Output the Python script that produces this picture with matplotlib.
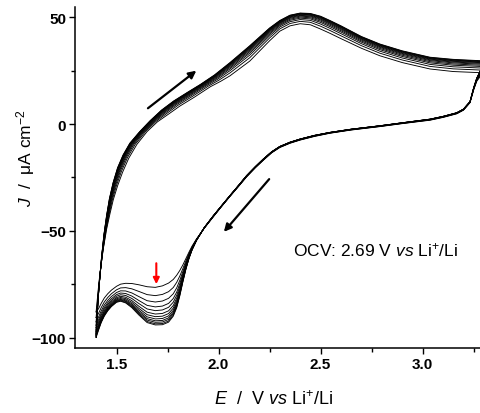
import numpy as np
import matplotlib
matplotlib.use("Agg")
import matplotlib.pyplot as plt
from matplotlib.ticker import MultipleLocator

plt.rcParams['font.family'] = ['Liberation Sans', 'DejaVu Sans']
plt.rcParams['mathtext.fontset'] = 'custom'
plt.rcParams['mathtext.rm'] = 'Liberation Sans'
plt.rcParams['mathtext.it'] = 'Liberation Sans:italic'
plt.rcParams['mathtext.bf'] = 'Liberation Sans:bold'

# ---- data ----
# anodic (forward) branch, first cycle (inner) and last cycle (outer), paired points
anod_first_E = [1.400, 1.406, 1.414, 1.424, 1.436, 1.452, 1.468, 1.484, 1.505, 1.530, 1.560, 1.600,
                1.650, 1.700, 1.760, 1.810, 1.880, 1.960, 2.010, 2.056, 2.153, 2.250, 2.300, 2.350,
                2.400, 2.450, 2.500, 2.546, 2.600, 2.700, 2.790, 2.900, 3.036, 3.150, 3.300]
anod_first_J = [-88, -82, -74, -66, -58, -49, -42, -35.5, -29, -22.5, -16, -9.5,
                -3.5, 1, 5, 8.4, 12.5, 17.5, 20, 22.6, 29.5, 39, 43.5, 46,
                47, 46.5, 44.5, 42.5, 40, 35.5, 32, 28.8, 25.8, 24.6, 24.0]
anod_last_E = [1.400, 1.404, 1.410, 1.418, 1.426, 1.438, 1.451, 1.465, 1.483, 1.505, 1.532, 1.565,
               1.614, 1.664, 1.720, 1.780, 1.850, 1.910, 1.980, 2.056, 2.153, 2.250, 2.300, 2.350,
               2.400, 2.450, 2.500, 2.546, 2.600, 2.700, 2.790, 2.900, 3.036, 3.150, 3.300]
anod_last_J = [-100, -92, -82, -72, -63, -52, -43, -35, -27.5, -20.5, -14.5, -9,
               -3.5, 1.5, 6.5, 10.8, 15, 18.5, 23, 28.8, 36.7, 45, 48.5, 51,
               52, 51.8, 50.5, 48.5, 46, 41, 37.5, 34.3, 31.3, 30.3, 29.6]

# cathodic (reverse) branch, first cycle and last cycle, paired points
cath_E = [3.300, 3.290, 3.280, 3.265, 3.250, 3.232, 3.200, 3.167, 3.100, 3.036, 2.900, 2.790,
          2.650, 2.546, 2.470, 2.400, 2.350, 2.300, 2.260, 2.219, 2.180, 2.137, 2.100, 2.055,
          2.010, 1.974, 1.930, 1.892, 1.870, 1.855, 1.840, 1.825, 1.810, 1.795, 1.778, 1.755,
          1.725, 1.690, 1.650, 1.610, 1.575, 1.545, 1.520, 1.500, 1.475, 1.457, 1.440, 1.425,
          1.412, 1.400]
cath_first_J = [24.0, 23, 22, 20, 16, 10, 6.5, 4.8, 3.1, 1.8, 0.2, -1.2,
                -2.8, -4.3, -5.8, -7.5, -9, -11, -13.5, -17, -20.5, -24.8, -29, -34,
                -39.2, -43.5, -48.8, -53.8, -57.2, -60, -63, -66, -68.6, -70.8, -72.8, -74.5,
                -75.8, -76.5, -76.2, -75.3, -74.7, -74.6, -75, -76, -77.8, -79.5, -81.5, -84,
                -86.5, -88]
cath_last_J = [29.6, 27, 24.5, 21.5, 17, 10.5, 7, 5.3, 3.6, 2.3, 0.6, -0.8,
               -2.4, -3.9, -5.3, -7, -8.5, -10.5, -13, -16.4, -20, -24.2, -28.5, -33.6,
               -38.8, -43, -48.5, -54.5, -59, -63, -68, -74, -80.5, -86, -90, -92.8,
               -94, -94.1, -93, -89.5, -86, -83.8, -83, -83.5, -85.5, -87.5, -90, -93,
               -96.5, -100]

# relative position of each of the 12 cycles inside the bundle (0 = first, 1 = last)
cycle_frac = [0.0, 0.22, 0.39, 0.52, 0.62, 0.71, 0.78, 0.84, 0.89, 0.93, 0.97, 1.0]

x_ticks = [1.5, 2.0, 2.5, 3.0]
y_ticks = [-100, -50, 0, 50]
ocv_text = 'OCV: 2.69 V $vs$ Li$^{+}$/Li'

# ---- figure ----
fig = plt.figure(figsize=(4.8, 4.14), dpi=100)
ax = fig.add_axes([0.156, 0.156, 0.844, 0.824])

aE1, aJ1 = np.array(anod_first_E), np.array(anod_first_J)
aE2, aJ2 = np.array(anod_last_E), np.array(anod_last_J)
cE = np.array(cath_E)
cJ1, cJ2 = np.array(cath_first_J), np.array(cath_last_J)

for f in cycle_frac:
    E = np.concatenate([aE1 + f * (aE2 - aE1), cE])
    J = np.concatenate([aJ1 + f * (aJ2 - aJ1), cJ1 + f * (cJ2 - cJ1)])
    ax.plot(E, J, color='black', lw=0.65, solid_joinstyle='round')

ax.set_xlim(1.296, 3.281)
ax.set_ylim(-105.1, 54.7)

for s in ['top', 'right']:
    ax.spines[s].set_visible(False)
for s in ['left', 'bottom']:
    ax.spines[s].set_linewidth(1.1)

ax.set_xticks(x_ticks)
ax.set_xticklabels(['%.1f' % v for v in x_ticks])
ax.set_yticks(y_ticks)
ax.set_yticklabels(['%d' % v if v >= 0 else '\u2212%d' % (-v) for v in y_ticks])
ax.xaxis.set_minor_locator(MultipleLocator(0.25))
ax.yaxis.set_minor_locator(MultipleLocator(25))
ax.tick_params(which='major', direction='out', length=4.3, width=1.0, pad=2)
ax.tick_params(which='minor', direction='out', length=3, width=1.0)
for lab in ax.get_xticklabels() + ax.get_yticklabels():
    lab.set_fontweight('bold')
    lab.set_fontsize(11)

ax.set_xlabel('$E$  /  V $vs$ Li$^{+}$/Li', fontsize=13)
ax.set_ylabel('$J$  /  \u03bcA cm$^{-2}$', fontsize=12.5)
ax.xaxis.label.set_va('center')
ax.yaxis.label.set_va('center')
ax.yaxis.label.set_ha('center')
ax.xaxis.set_label_coords(0.489, -0.148)
ax.yaxis.set_label_coords(-0.123, 0.561)

# direction arrows
ax.annotate('', xy=(1.891, 25.0), xytext=(1.654, 7.4),
            arrowprops=dict(arrowstyle='-|>', color='black', lw=1.6, mutation_scale=11,
                            shrinkA=0, shrinkB=0))
ax.annotate('', xy=(2.026, -50.5), xytext=(2.248, -25.8),
            arrowprops=dict(arrowstyle='-|>', color='black', lw=1.6, mutation_scale=11,
                            shrinkA=0, shrinkB=0))
ax.annotate('', xy=(1.695, -75.0), xytext=(1.695, -65.2),
            arrowprops=dict(arrowstyle='-|>', color='red', lw=1.5, mutation_scale=9,
                            shrinkA=0, shrinkB=0))

ax.text(2.365, -58.6, ocv_text, fontsize=12.5, ha='left', va='center')

fig.savefig('out.png', dpi=100)
